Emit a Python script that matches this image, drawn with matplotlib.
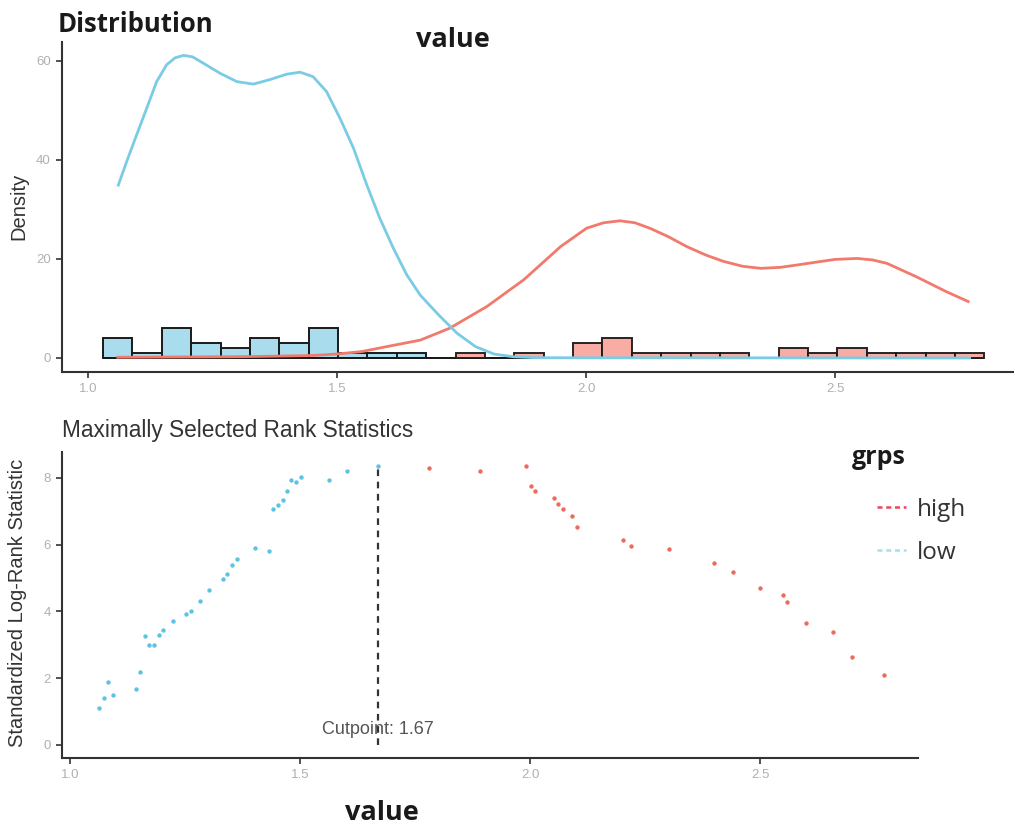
import matplotlib.pyplot as plt
import numpy as np
from matplotlib.lines import Line2D

plt.rcParams['font.family'] = ['Liberation Sans', 'DejaVu Sans']

# --- histogram (30 bins over the observed range of value) ---
value_min, value_max, n_bins = 1.06, 2.77, 30
low_counts = [4, 1, 6, 3, 2, 4, 3, 6, 1, 1, 1, 0, 0, 0, 0,
              0, 0, 0, 0, 0, 0, 0, 0, 0, 0, 0, 0, 0, 0, 0]
high_counts = [0, 0, 0, 0, 0, 0, 0, 0, 0, 0, 0, 0, 1, 0, 1,
               0, 3, 4, 1, 1, 1, 1, 0, 2, 1, 2, 1, 1, 1, 1]

# --- density curves ---
low_dens_x = [1.061, 1.078, 1.098, 1.118, 1.138, 1.158, 1.175, 1.192, 1.210,
              1.232, 1.265, 1.299, 1.332, 1.365, 1.399, 1.426, 1.452, 1.479,
              1.506, 1.533, 1.560, 1.586, 1.613, 1.640, 1.667, 1.704, 1.741,
              1.778, 1.815, 1.853, 1.900, 2.770]
low_dens_y = [34.9, 39.7, 45.1, 50.4, 55.8, 59.2, 60.6, 61.1, 60.8,
              59.5, 57.5, 55.8, 55.3, 56.2, 57.3, 57.7, 56.8, 53.8,
              48.4, 42.4, 34.9, 28.2, 22.2, 16.8, 12.7, 8.7, 5.0,
              2.3, 0.8, 0.26, 0.05, 0.0]
high_dens_x = [1.06, 1.30, 1.45, 1.50, 1.55, 1.60, 1.667, 1.726, 1.801, 1.875,
               1.949, 2.001, 2.035, 2.068, 2.098, 2.128, 2.165, 2.202, 2.240,
               2.276, 2.315, 2.351, 2.390, 2.425, 2.465, 2.500, 2.544, 2.575,
               2.604, 2.663, 2.723, 2.767]
high_dens_y = [0.15, 0.25, 0.5, 0.8, 1.3, 2.3, 3.6, 6.0, 10.4, 15.8,
               22.5, 26.2, 27.3, 27.7, 27.3, 26.2, 24.5, 22.5, 20.8,
               19.5, 18.5, 18.1, 18.3, 18.8, 19.4, 19.9, 20.1, 19.8,
               19.1, 16.4, 13.4, 11.4]

# --- maximally selected rank statistics ---
low_x = [1.064, 1.073, 1.083, 1.093, 1.143, 1.153, 1.164, 1.172, 1.183, 1.193,
         1.203, 1.223, 1.252, 1.263, 1.283, 1.303, 1.332, 1.342, 1.353, 1.362,
         1.403, 1.433, 1.442, 1.452, 1.462, 1.472, 1.481, 1.491, 1.502, 1.562,
         1.602, 1.670]
low_stat = [1.12, 1.40, 1.88, 1.49, 1.67, 2.19, 3.27, 2.99, 2.99, 3.30,
            3.44, 3.70, 3.91, 4.01, 4.30, 4.63, 4.98, 5.12, 5.38, 5.57,
            5.89, 5.80, 7.05, 7.19, 7.33, 7.60, 7.94, 7.87, 8.01, 7.94,
            8.21, 8.36]
high_x = [1.781, 1.891, 1.991, 2.001, 2.011, 2.051, 2.061, 2.071, 2.091, 2.102,
          2.201, 2.220, 2.301, 2.400, 2.441, 2.500, 2.550, 2.559, 2.600, 2.659,
          2.699, 2.770]
high_stat = [8.30, 8.19, 8.36, 7.76, 7.59, 7.40, 7.20, 7.06, 6.84, 6.51,
             6.15, 5.95, 5.88, 5.45, 5.19, 4.70, 4.50, 4.28, 3.64, 3.37,
             2.64, 2.09]
cutpoint = 1.67
cut_stat = 8.36

blue_line = '#7ACBE4'
red_line = '#F27A6C'
blue_fill = '#A9DDEE'
red_fill = '#F8A89E'
blue_pt = '#5EC2E2'
red_pt = '#EF6A5D'

W, H = 1015, 824
fig = plt.figure(figsize=(W / 100, H / 100), dpi=100)

def frac(x0, y0, x1, y1):
    return [x0 / W, 1 - y1 / H, (x1 - x0) / W, (y1 - y0) / H]

def style(ax):
    for s in ['top', 'right']:
        ax.spines[s].set_visible(False)
    for s in ['left', 'bottom']:
        ax.spines[s].set_color('#333333')
        ax.spines[s].set_linewidth(1.5)
    ax.tick_params(length=4, width=1.2, color='#333333', labelcolor='#b0b0b0',
                   labelsize=9.5, pad=4)

# Top: distribution
ax1 = fig.add_axes(frac(62, 42, 1013, 372))
centers = np.linspace(value_min, value_max, n_bins)
width = (value_max - value_min) / (n_bins - 1)
ax1.bar(centers, low_counts, width=width, color=blue_fill, edgecolor='#1a1a1a',
        linewidth=1.4)
ax1.bar(centers, high_counts, width=width, color=red_fill, edgecolor='#1a1a1a',
        linewidth=1.4, alpha=0.95)
ax1.plot(high_dens_x, high_dens_y, color=red_line, lw=2, solid_joinstyle='round')
ax1.plot(low_dens_x, low_dens_y, color=blue_line, lw=2, solid_joinstyle='round')
ax1.set_xlim(0.948, 2.857)
ax1.set_ylim(-2.83, 63.8)
ax1.set_xticks([1.0, 1.5, 2.0, 2.5])
ax1.set_xticklabels(['1.0', '1.5', '2.0', '2.5'])
ax1.set_yticks([0, 20, 40, 60])
style(ax1)

# Bottom: maxstat
ax2 = fig.add_axes(frac(62, 452, 918, 758))
ax2.scatter(low_x, low_stat, s=10, color=blue_pt, zorder=3, linewidths=0)
ax2.scatter(high_x, high_stat, s=10, color=red_pt, zorder=3, linewidths=0)
ax2.vlines(cutpoint, 0, cut_stat, colors='#333333', linestyles=(0, (3, 2.5)), lw=1.6)
ax2.text(cutpoint, 0.45, 'Cutpoint: %.2f' % cutpoint, ha='center', va='center',
         fontsize=13, color='#555555')
ax2.set_xlim(0.9826, 2.843)
ax2.set_ylim(-0.39, 8.77)
ax2.set_xticks([1.0, 1.5, 2.0, 2.5])
ax2.set_xticklabels(['1.0', '1.5', '2.0', '2.5'])
ax2.set_yticks([0, 2, 4, 6, 8])
style(ax2)

# Labels
bold = dict(family=['Open Sans', 'DejaVu Sans'], fontweight='bold', color='#1a1a1a')
fig.text(58 / W, 1 - 25 / H, 'Distribution', ha='left', va='center', fontsize=18.5, **bold)
fig.text(453 / W, 1 - 40 / H, 'value', ha='center', va='center', fontsize=19.5, **bold)
fig.text(382 / W, 1 - 813 / H, 'value', ha='center', va='center', fontsize=19.5, **bold)
fig.text(852 / W, 1 - 458 / H, 'grps', ha='left', va='center', fontsize=18, **bold)
fig.text(62 / W, 1 - 430 / H, 'Maximally Selected Rank Statistics', ha='left',
         va='center', fontsize=16.3, color='#333333')
fig.text(19 / W, 1 - 206 / H, 'Density', rotation=90, ha='center', va='center',
         fontsize=14.5, color='#333333')
fig.text(18 / W, 1 - 603 / H, 'Standardized Log-Rank Statistic', rotation=90,
         ha='center', va='center', fontsize=14.5, color='#333333')

handles = [Line2D([], [], color='#F0435A', ls=(0, (2, 1.5)), lw=1.8),
           Line2D([], [], color='#A6DEF0', ls=(0, (2, 1.5)), lw=1.8)]
fig.legend(handles, ['high', 'low'], loc='upper left',
           bbox_to_anchor=(877 / W, 1 - 498 / H), frameon=False,
           prop={'family': ['Open Sans', 'DejaVu Sans'], 'size': 17.5},
           labelcolor='#333333', handlelength=1.2, handletextpad=0.45,
           labelspacing=0.78, borderpad=0, borderaxespad=0)

fig.savefig('out.png', dpi=100)
